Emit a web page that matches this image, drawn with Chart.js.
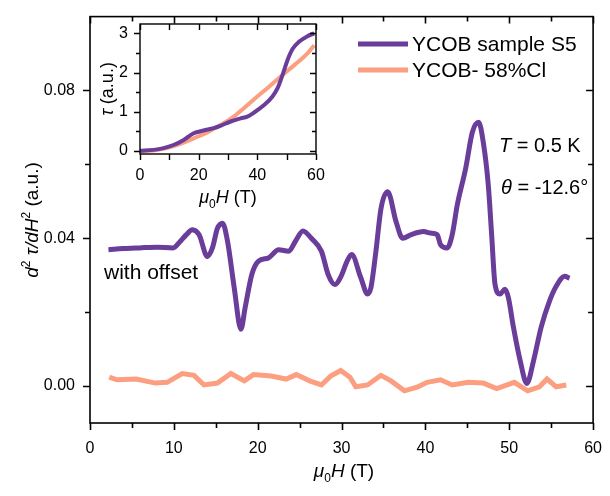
<!DOCTYPE html>
<html>
<head>
<meta charset="utf-8">
<script src="https://cdn.jsdelivr.net/npm/chart.js@4.4.0/dist/chart.umd.min.js"></script>
<style>
html, body { margin: 0; padding: 0; background: #fff; }
#wrap { position: relative; width: 610px; height: 496px; }
#main { position: absolute; left: 0; top: 0; }
#inset { position: absolute; left: 90px; top: 0; }
</style>
</head>
<body>
<div id="wrap">
  <canvas id="main" width="610" height="496"></canvas>
  <canvas id="inset" width="250" height="215"></canvas>
</div>
<script>
// main panel: d2tau/dH2 vs field
const fieldS5 = [2.2, 4, 5.9, 8, 9.9, 10.7, 11.5, 12.2, 13.0, 14.0, 14.6, 15.2, 15.8, 16.4, 17.2,
  18.0, 18.5, 19.3, 20.1, 21.3, 22.5, 23.7, 24.5, 25.4, 26.4, 27.6, 28.4, 29.2, 30.0, 30.6,
  31.2, 32.3, 33.1, 33.5, 34.1, 34.7, 35.5, 36.5, 37.3, 38.3, 39.8, 40.6, 41.4, 41.8, 42.6,
  43.2, 43.8, 44.8, 45.6, 46.35, 46.9, 47.5, 47.9, 48.3, 48.9, 49.5, 49.9, 50.5, 51.3, 52.1,
  52.9, 53.8, 54.8, 55.6, 56.6, 57.2];
const d2S5 = [0.0369, 0.0372, 0.0374, 0.0376, 0.0374, 0.039, 0.041, 0.0423, 0.041, 0.0351, 0.0374, 0.0427, 0.0441, 0.0392, 0.0266,
  0.0154, 0.0212, 0.0302, 0.0338, 0.0347, 0.0369, 0.0365, 0.0392, 0.042, 0.040, 0.0365, 0.0302, 0.0275, 0.030, 0.0335,
  0.0356, 0.0293, 0.0249, 0.0266, 0.0365, 0.048, 0.0526, 0.0445, 0.040, 0.041, 0.0418, 0.0414, 0.041, 0.0383, 0.0374,
  0.041, 0.049, 0.0589, 0.0687, 0.0714, 0.066, 0.0544, 0.041, 0.0276, 0.0249, 0.0262, 0.0239, 0.0159, 0.0069, 0.0007,
  0.0069, 0.0159, 0.023, 0.027, 0.0297, 0.0292];
const fieldCl = [2.3, 3.2, 5.5, 7.8, 9.2, 11.0, 12.4, 13.6, 15.2, 16.8, 18.4, 19.5, 21.6, 23.4, 24.6,
  26.2, 27.6, 28.7, 29.9, 31.0, 31.7, 33.1, 34.7, 35.9, 37.5, 39.1, 40.2, 41.8, 43.2, 45.1,
  46.9, 48.5, 50.6, 52.2, 53.6, 54.5, 55.6, 56.8];
const d2Cl = [0.0024, 0.0017, 0.0019, 0.0008, 0.001, 0.0034, 0.0029, 0.0003, 0.0008, 0.0034, 0.0014, 0.0031, 0.0027, 0.0019, 0.0031,
  0.0014, 0.0003, 0.0027, 0.0042, 0.0024, -0.0002, 0.0003, 0.0029, 0.0014, -0.0013, -0.0002, 0.001, 0.0017, 0.0003, 0.001,
  0.0008, -0.0007, 0.001, -0.0013, -0.0002, 0.0019, -0.0002, 0.0003];

// inset: torque vs field
const insetFieldS5 = [0, 4.6, 8, 11.4, 14.9, 18.3, 21.7, 25.1, 27.4, 30.9, 34.3, 36.6, 38.9, 42.3, 45.1, 46.9, 48.6, 50.3, 52.0, 54.3, 57.1, 59.4];
const tauS5 = [0, 0.025, 0.07, 0.15, 0.28, 0.45, 0.52, 0.58, 0.64, 0.75, 0.83, 0.875, 0.98, 1.17, 1.38, 1.6, 1.94, 2.32, 2.6, 2.79, 2.93, 3.0];
const insetFieldCl = [0, 4.6, 9.1, 13.7, 18.3, 22.9, 27.4, 32, 35.4, 38.9, 43.4, 48, 52.6, 57.1, 59.4];
const tauCl = [-0.01, 0.01, 0.07, 0.18, 0.32, 0.47, 0.66, 0.875, 1.09, 1.32, 1.6, 1.9, 2.19, 2.49, 2.7];

const seriesNames = ['YCOB sample S5', 'YCOB- 58%Cl'];

const xLabels = [0, 10, 20, 30, 40, 50, 60];
const xMarks = [0, 5, 10, 15, 20, 25, 30, 35, 40, 45, 50, 55, 60];
const yLabels = [0, 0.04, 0.08];
const yMarks = [0, 0.02, 0.04, 0.06, 0.08];
const insetXLabels = [0, 20, 40, 60];
const insetXMarks = [0, 10, 20, 30, 40, 50, 60];
const insetYLabels = [0, 1, 2, 3];
const insetYMarks = [0, 0.5, 1, 1.5, 2, 2.5, 3];

const PURPLE = '#6a3d9a';
const SALMON = '#fb9f80';
const FONT = '"Liberation Sans", Arial, sans-serif';

const pts = (xs, ys) => xs.map((v, i) => ({ x: v, y: ys[i] }));

// draw a run of text pieces, some italic / sub / sup
function richText(ctx, parts, x, y, size, align) {
  const fontOf = p => (p.i ? 'italic ' : '') + (p.sub || p.sup ? Math.round(size * 0.65) : size) + 'px ' + FONT;
  let total = 0;
  parts.forEach(p => { ctx.font = fontOf(p); total += ctx.measureText(p.t).width; });
  let cx = align === 'center' ? x - total / 2 : x;
  ctx.textBaseline = 'alphabetic';
  ctx.textAlign = 'left';
  parts.forEach(p => {
    ctx.font = fontOf(p);
    let dy = 0;
    if (p.sub) dy = size * 0.28;
    if (p.sup) dy = -size * 0.42;
    ctx.fillText(p.t, cx, y + dy);
    cx += ctx.measureText(p.t).width;
  });
}

const framePlugin = {
  id: 'frame',
  afterDraw(chart, args, o) {
    const { ctx, chartArea: a, scales: { x, y } } = chart;
    ctx.save();
    ctx.strokeStyle = '#000';
    ctx.lineWidth = o.lw;
    ctx.strokeRect(a.left, a.top, a.right - a.left, a.bottom - a.top);
    ctx.beginPath();
    o.xMarks.forEach(v => {
      const px = Math.round(x.getPixelForValue(v)) + 0.5;
      const len = o.xLabels.includes(v) ? o.major : o.minor;
      ctx.moveTo(px, a.bottom); ctx.lineTo(px, a.bottom + len);
      ctx.moveTo(px, a.top); ctx.lineTo(px, a.top + len);
    });
    o.yMarks.forEach(v => {
      const py = Math.round(y.getPixelForValue(v)) + 0.5;
      const len = o.yLabels.includes(v) ? o.major : o.minor;
      ctx.moveTo(a.left, py); ctx.lineTo(a.left - len, py);
      ctx.moveTo(a.right, py); ctx.lineTo(a.right - len, py);
    });
    ctx.stroke();
    ctx.fillStyle = '#000';
    (o.texts || []).forEach(t => {
      ctx.save();
      ctx.translate(t.x, t.y);
      if (t.rot) ctx.rotate(-Math.PI / 2);
      richText(ctx, t.parts, 0, 0, t.size, t.align);
      ctx.restore();
    });
    if (o.legend) {
      const L = o.legend;
      chart.data.datasets.forEach((ds, i) => {
        const ly = L.y + i * L.gap;
        ctx.strokeStyle = ds.borderColor;
        ctx.lineWidth = 5;
        ctx.beginPath();
        ctx.moveTo(L.x, ly); ctx.lineTo(L.x + L.len, ly);
        ctx.stroke();
        ctx.fillStyle = '#000';
        ctx.font = L.size + 'px ' + FONT;
        ctx.textBaseline = 'middle';
        ctx.fillText(ds.label, L.x + L.len + 4, ly + 1);
      });
    }
    ctx.restore();
  }
};

const tickFont = { family: FONT, size: 16 };

new Chart(document.getElementById('main'), {
  type: 'line',
  data: {
    datasets: [
      { label: seriesNames[0], data: pts(fieldS5, d2S5), borderColor: PURPLE, borderWidth: 5,
        pointRadius: 0, cubicInterpolationMode: 'monotone' },
      { label: seriesNames[1], data: pts(fieldCl, d2Cl), borderColor: SALMON, borderWidth: 5,
        pointRadius: 0, tension: 0 }
    ]
  },
  options: {
    responsive: false,
    devicePixelRatio: 1,
    animation: false,
    layout: { padding: { top: 14, right: 13, left: 0, bottom: 0 } },
    scales: {
      x: {
        type: 'linear', min: 0, max: 60,
        afterBuildTicks: s => { s.ticks = xLabels.map(v => ({ value: v })); },
        afterFit: s => { s.height = 73; },
        grid: { display: false }, border: { display: false },
        ticks: { color: '#000', font: tickFont, padding: 8, maxRotation: 0 }
      },
      y: {
        min: -0.01, max: 0.1,
        afterBuildTicks: s => { s.ticks = yLabels.map(v => ({ value: v })); },
        afterFit: s => { s.width = 90; },
        grid: { display: false }, border: { display: false },
        ticks: { color: '#000', font: tickFont, padding: 7, callback: v => v.toFixed(2) }
      }
    },
    plugins: {
      legend: { display: false },
      tooltip: { enabled: false },
      frame: {
        lw: 1.6, major: 7, minor: 5,
        xMarks, xLabels, yMarks, yLabels,
        legend: { x: 358, y: 44, gap: 26, len: 50, size: 21 },
        texts: [
          { x: 344, y: 477, size: 19, align: 'center',
            parts: [{ t: 'μ', i: true }, { t: '0', sub: true }, { t: 'H', i: true }, { t: ' (T)' }] },
          { x: 38, y: 220, size: 19, align: 'center', rot: true,
            parts: [{ t: 'd', i: true }, { t: '2', sup: true }, { t: ' τ/dH', i: true }, { t: '2', sup: true }, { t: ' (a.u.)' }] },
          { x: 499, y: 152, size: 20, align: 'left',
            parts: [{ t: 'T', i: true }, { t: ' = 0.5 K' }] },
          { x: 501, y: 194, size: 20, align: 'left',
            parts: [{ t: 'θ', i: true }, { t: ' = -12.6°' }] },
          { x: 104, y: 279, size: 21, align: 'left', parts: [{ t: 'with offset' }] }
        ]
      }
    }
  },
  plugins: [framePlugin]
});

new Chart(document.getElementById('inset'), {
  type: 'line',
  data: {
    datasets: [
      { label: seriesNames[0], data: pts(insetFieldS5, tauS5), borderColor: PURPLE, borderWidth: 4,
        pointRadius: 0, cubicInterpolationMode: 'monotone' },
      { label: seriesNames[1], data: pts(insetFieldCl, tauCl), borderColor: SALMON, borderWidth: 4,
        pointRadius: 0, cubicInterpolationMode: 'monotone' }
    ]
  },
  options: {
    responsive: false,
    devicePixelRatio: 1,
    animation: false,
    layout: { padding: { top: 24, right: 24, left: 0, bottom: 0 } },
    scales: {
      x: {
        type: 'linear', min: 0, max: 60,
        afterBuildTicks: s => { s.ticks = insetXLabels.map(v => ({ value: v })); },
        afterFit: s => { s.height = 61; },
        grid: { display: false }, border: { display: false },
        ticks: { color: '#000', font: tickFont, padding: 4, maxRotation: 0 }
      },
      y: {
        min: -0.08, max: 3.24,
        afterBuildTicks: s => { s.ticks = insetYLabels.map(v => ({ value: v })); },
        afterFit: s => { s.width = 50; },
        grid: { display: false }, border: { display: false },
        ticks: { color: '#000', font: tickFont, padding: 4 }
      }
    },
    plugins: {
      legend: { display: false },
      tooltip: { enabled: false },
      frame: {
        lw: 1.4, major: 6, minor: 4,
        xMarks: insetXMarks, xLabels: insetXMarks, yMarks: insetYMarks, yLabels: insetYLabels,
        texts: [
          { x: 138, y: 203, size: 18, align: 'center',
            parts: [{ t: 'μ', i: true }, { t: '0', sub: true }, { t: 'H', i: true }, { t: ' (T)' }] },
          { x: 23, y: 89, size: 18, align: 'center', rot: true,
            parts: [{ t: 'τ', i: true }, { t: ' (a.u.)' }] }
        ]
      }
    }
  },
  plugins: [framePlugin]
});
</script>
</body>
</html>
